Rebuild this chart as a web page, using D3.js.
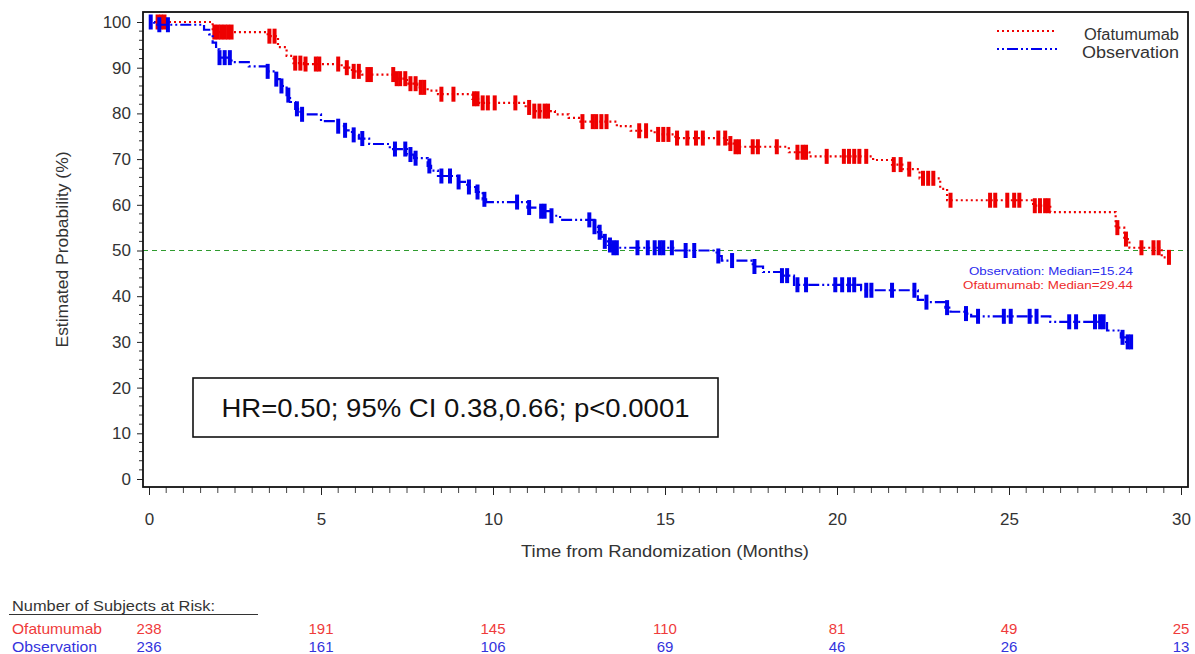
<!DOCTYPE html>
<html>
<head>
<meta charset="utf-8">
<script src="https://cdn.jsdelivr.net/npm/d3@7/dist/d3.min.js"></script>
<style>
  html, body { margin: 0; padding: 0; background: #fff; }
  svg { display: block; font-family: "Liberation Sans", Arial, sans-serif; }
</style>
</head>
<body>
<svg id="chart" width="1195" height="654"></svg>
<script>
// ---------------- DATA ----------------
const seriesNames = ["Ofatumumab", "Observation"];

// Ofatumumab: Kaplan-Meier step times (months) and survival (%) after each step
const ofaTimes = [0, 1.85, 3.45, 3.75, 4.0, 4.2, 4.5, 5.6, 5.9, 6.2, 7.2, 7.5, 7.8, 8.1, 8.4, 9.4, 9.6,
  10.95, 11.2, 11.8, 12.2, 12.5, 13.6, 14.0, 14.7, 15.3, 16.8, 17.0, 18.6, 19.2, 21.05, 21.6, 21.9,
  22.4, 23.0, 23.2, 25.7, 26.2, 28.1, 28.35, 28.5, 29.44];
const ofaSurv = [100, 97.8, 96.9, 94.5, 92.6, 91.0, 90.8, 90.0, 89.2, 88.5, 87.6, 86.5, 85.7, 85.0, 84.2, 83.2, 82.3,
  81.3, 80.5, 79.8, 79.0, 78.2, 77.2, 76.2, 75.4, 74.6, 73.4, 72.7, 71.5, 70.6, 69.8, 68.8, 67.8,
  65.8, 63.5, 61.0, 59.8, 58.4, 55.0, 52.5, 50.6, 48.5];
const ofaEnd = 29.7;
const ofaCensor = [0.25, 0.35, 0.45, 1.9, 2.0, 2.1, 2.2, 2.3, 2.4, 3.5, 3.65, 4.25, 4.4, 4.55, 4.85, 4.95,
  5.5, 5.75, 5.95, 6.1, 6.35, 6.45, 7.1, 7.2, 7.3, 7.45, 7.6, 7.75, 7.9, 8.0, 8.5, 8.85,
  9.45, 9.55, 9.7, 9.85, 10.05, 10.65, 11.05, 11.2, 11.35, 11.5, 11.6, 12.6, 12.9, 13.0, 13.15, 13.3,
  14.25, 14.45, 14.8, 14.95, 15.1, 15.35, 15.65, 15.9, 16.1, 16.55, 16.75, 16.9, 17.05, 17.15,
  17.55, 17.7, 18.25, 18.85, 19.0, 19.1, 19.7, 20.2, 20.35, 20.5, 20.65, 20.85, 21.65, 21.85,
  22.1, 22.5, 22.65, 22.8, 23.3, 24.45, 24.6, 24.95, 25.15, 25.3, 25.75, 25.9, 26.05, 26.15,
  28.15, 28.4, 28.85, 29.2, 29.35, 29.65];

// Observation
const obsTimes = [0, 0.15, 1.6, 1.75, 1.85, 1.95, 2.05, 2.4, 2.9, 3.45, 3.7, 3.85, 4.0, 4.1, 4.25, 4.4,
  5.0, 5.5, 5.7, 5.9, 6.1, 6.4, 7.0, 7.5, 7.7, 8.1, 8.2, 8.4, 9.0, 9.25, 9.5, 9.7, 9.8,
  11.0, 11.4, 11.7, 11.95, 12.95, 13.05, 13.15, 13.25, 13.35, 13.45, 15.24, 16.5, 16.65,
  17.55, 17.85, 18.4, 18.75, 20.7, 22.35, 22.5, 23.15, 23.3, 23.7, 23.9, 26.2, 27.85, 28.25, 28.4];
const obsSurv = [100, 99.4, 98.3, 97.3, 95.5, 94.0, 92.2, 91.2, 90.3, 89.2, 87.5, 86.0, 84.0, 82.5, 81.0, 79.8,
  78.3, 77.2, 76.3, 75.3, 74.5, 73.3, 72.2, 71.0, 70.2, 68.5, 67.5, 66.3, 65.0, 63.9, 62.8, 61.2, 60.6,
  59.4, 58.6, 57.6, 56.7, 55.2, 54.0, 53.0, 52.0, 51.2, 50.6, 50.0, 48.8, 47.8,
  46.5, 45.3, 44.5, 42.5, 41.3, 39.2, 38.7, 37.5, 36.6, 36.2, 35.6, 34.4, 32.5, 31.0, 30.0];
const obsEnd = 28.55;
const obsCensor = [0.05, 0.3, 0.55, 2.05, 2.2, 2.35, 3.45, 3.7, 3.85, 4.05, 4.3, 4.45, 5.5, 5.7, 5.95, 6.2,
  7.15, 7.45, 7.6, 7.75, 8.15, 8.5, 8.75, 9.0, 9.3, 9.55, 9.75, 10.7, 11.05, 11.4, 11.5, 11.7,
  12.8, 12.95, 13.1, 13.25, 13.4, 13.5, 13.6, 14.2, 14.5, 14.7, 14.85, 14.95, 15.2, 15.6, 15.85,
  16.55, 16.95, 17.6, 18.4, 18.55, 18.85, 19.1, 19.95, 20.15, 20.35, 20.5, 20.85, 21.0, 21.6,
  22.25, 22.6, 23.2, 23.75, 24.1, 24.85, 25.05, 25.6, 25.8, 26.75, 26.95, 27.5, 27.65, 27.75,
  28.3, 28.45, 28.55];

const xTicks = [0, 5, 10, 15, 20, 25, 30];
const yTicks = [0, 10, 20, 30, 40, 50, 60, 70, 80, 90, 100];
const riskTimes = [0, 5, 10, 15, 20, 25, 30];
const ofaRisk = [238, 191, 145, 110, 81, 49, 25];
const obsRisk = [236, 161, 106, 69, 46, 26, 13];
const medianLabels = ["Observation: Median=15.24", "Ofatumumab: Median=29.44"];
const hrText = "HR=0.50; 95% CI 0.38,0.66; p<0.0001";

// ---------------- LAYOUT ----------------
const frame = { left: 143, top: 12, right: 1188, bottom: 487 };
const x = d3.scaleLinear().domain([0, 30]).range([149, 1181]);
const y = d3.scaleLinear().domain([0, 100]).range([479, 22]);

const RED = "#ee0000", BLUE = "#0000ee";
const svg = d3.select("#chart");

// reference line at 50%
svg.append("line")
  .attr("x1", frame.left).attr("x2", frame.right)
  .attr("y1", y(50)).attr("y2", y(50))
  .attr("stroke", "#2f9b2f").attr("stroke-width", 1.1)
  .attr("stroke-dasharray", "5,4");

// axes
const yAxis = d3.axisLeft(y).tickValues(yTicks).tickSize(6).tickPadding(6);
const gy = svg.append("g").attr("transform", `translate(${frame.left},0)`).call(yAxis);
gy.select(".domain").remove();
gy.selectAll("text").attr("font-size", 17).attr("fill", "#333");
gy.selectAll("line").attr("stroke", "#222");
const yMinor = d3.range(0, 101, 2).filter(v => v % 10 !== 0);
svg.append("g").selectAll("line").data(yMinor).join("line")
  .attr("x1", frame.left - 4).attr("x2", frame.left)
  .attr("y1", d => y(d)).attr("y2", d => y(d))
  .attr("stroke", "#333").attr("stroke-width", 1);

const xAxis = d3.axisBottom(x).tickValues(xTicks).tickSize(8).tickPadding(18);
const gx = svg.append("g").attr("transform", `translate(0,${frame.bottom})`).call(xAxis);
gx.select(".domain").remove();
gx.selectAll("text").attr("font-size", 17).attr("fill", "#333");
gx.selectAll("line").attr("stroke", "#222");
const xMinor = d3.range(0, 30.01, 0.5).filter(v => v % 5 !== 0);
svg.append("g").selectAll("line").data(xMinor).join("line")
  .attr("x1", d => x(d)).attr("x2", d => x(d))
  .attr("y1", frame.bottom).attr("y2", frame.bottom + 6)
  .attr("stroke", "#444").attr("stroke-width", 1);

// frame
svg.append("rect")
  .attr("x", frame.left).attr("y", frame.top)
  .attr("width", frame.right - frame.left).attr("height", frame.bottom - frame.top)
  .attr("fill", "none").attr("stroke", "#111").attr("stroke-width", 1.8);

// axis titles
svg.append("text")
  .attr("transform", `translate(68,${(frame.top + frame.bottom) / 2 + 0}) rotate(-90)`)
  .attr("text-anchor", "middle").attr("font-size", 17).attr("fill", "#333")
  .attr("textLength", 196).attr("lengthAdjust", "spacingAndGlyphs")
  .text("Estimated Probability (%)");
svg.append("text")
  .attr("x", (x(0) + x(30)) / 2).attr("y", 557)
  .attr("text-anchor", "middle").attr("font-size", 17).attr("fill", "#333")
  .attr("textLength", 288).attr("lengthAdjust", "spacingAndGlyphs")
  .text("Time from Randomization (Months)");

// KM curves
function stepData(times, surv, end) {
  const pts = times.map((t, i) => [t, surv[i]]);
  pts.push([end, surv[surv.length - 1]]);
  return pts;
}
function survAt(times, surv, t) {
  let v = surv[0];
  for (let i = 0; i < times.length; i++) if (times[i] <= t) v = surv[i];
  return v;
}
const line = d3.line().x(d => x(d[0])).y(d => y(d[1])).curve(d3.curveStepAfter);

const series = [
  { name: seriesNames[0], times: ofaTimes, surv: ofaSurv, end: ofaEnd, censor: ofaCensor, color: RED, dash: "2,3" },
  { name: seriesNames[1], times: obsTimes, surv: obsSurv, end: obsEnd, censor: obsCensor, color: BLUE, dash: "2,3,2,3,11,3" }
];

series.forEach(s => {
  svg.append("path")
    .datum(stepData(s.times, s.surv, s.end))
    .attr("d", line)
    .attr("fill", "none").attr("stroke", s.color).attr("stroke-width", 2.2)
    .attr("stroke-dasharray", s.dash);
  svg.append("g").selectAll("rect").data(s.censor).join("rect")
    .attr("x", d => x(d) - 2)
    .attr("y", d => y(survAt(s.times, s.surv, d)) - 7.5)
    .attr("width", 4).attr("height", 15)
    .attr("fill", s.color);
});

// legend
const legend = [
  { label: seriesNames[0], color: RED, dash: "2,3", yy: 31, ty: 40, w: 95 },
  { label: seriesNames[1], color: BLUE, dash: "2,3,2,3,11,3", yy: 49, ty: 58, w: 97 }
];
legend.forEach(l => {
  svg.append("line").attr("x1", 997).attr("x2", 1057).attr("y1", l.yy).attr("y2", l.yy)
    .attr("stroke", l.color).attr("stroke-width", 2.2).attr("stroke-dasharray", l.dash);
  svg.append("text").attr("x", 1179).attr("y", l.ty).attr("text-anchor", "end")
    .attr("font-size", 16).attr("fill", "#333")
    .attr("textLength", l.w).attr("lengthAdjust", "spacingAndGlyphs").text(l.label);
});

// median labels
svg.append("text").attr("x", 1133).attr("y", 275).attr("text-anchor", "end")
  .attr("font-size", 11).attr("fill", "#2a2aee")
  .attr("textLength", 164).attr("lengthAdjust", "spacingAndGlyphs").text(medianLabels[0]);
svg.append("text").attr("x", 1133).attr("y", 289).attr("text-anchor", "end")
  .attr("font-size", 11).attr("fill", "#ee2a2a")
  .attr("textLength", 170).attr("lengthAdjust", "spacingAndGlyphs").text(medianLabels[1]);

// HR box
svg.append("rect").attr("x", 193).attr("y", 378).attr("width", 525).attr("height", 59)
  .attr("fill", "#fff").attr("stroke", "#111").attr("stroke-width", 1.6);
svg.append("text").attr("x", 455.5).attr("y", 417).attr("text-anchor", "middle")
  .attr("font-size", 25).attr("fill", "#111")
  .attr("textLength", 468).attr("lengthAdjust", "spacingAndGlyphs").text(hrText);

// at-risk table
svg.append("text").attr("x", 12).attr("y", 611).attr("font-size", 15).attr("fill", "#333")
  .attr("textLength", 203).attr("lengthAdjust", "spacingAndGlyphs")
  .text("Number of Subjects at Risk:");
svg.append("line").attr("x1", 9).attr("x2", 258).attr("y1", 614.5).attr("y2", 614.5)
  .attr("stroke", "#333").attr("stroke-width", 1);
const rows = [
  { label: seriesNames[0], vals: ofaRisk, color: "#ef3b3b", yy: 634, w: 90 },
  { label: seriesNames[1], vals: obsRisk, color: "#3333dd", yy: 652, w: 85 }
];
rows.forEach(r => {
  svg.append("text").attr("x", 12).attr("y", r.yy).attr("font-size", 15).attr("fill", r.color)
    .attr("textLength", r.w).attr("lengthAdjust", "spacingAndGlyphs").text(r.label);
  svg.append("g").selectAll("text").data(r.vals).join("text")
    .attr("x", (d, i) => x(riskTimes[i])).attr("y", r.yy)
    .attr("text-anchor", "middle").attr("font-size", 15).attr("fill", r.color)
    .text(d => d);
});
</script>
</body>
</html>
